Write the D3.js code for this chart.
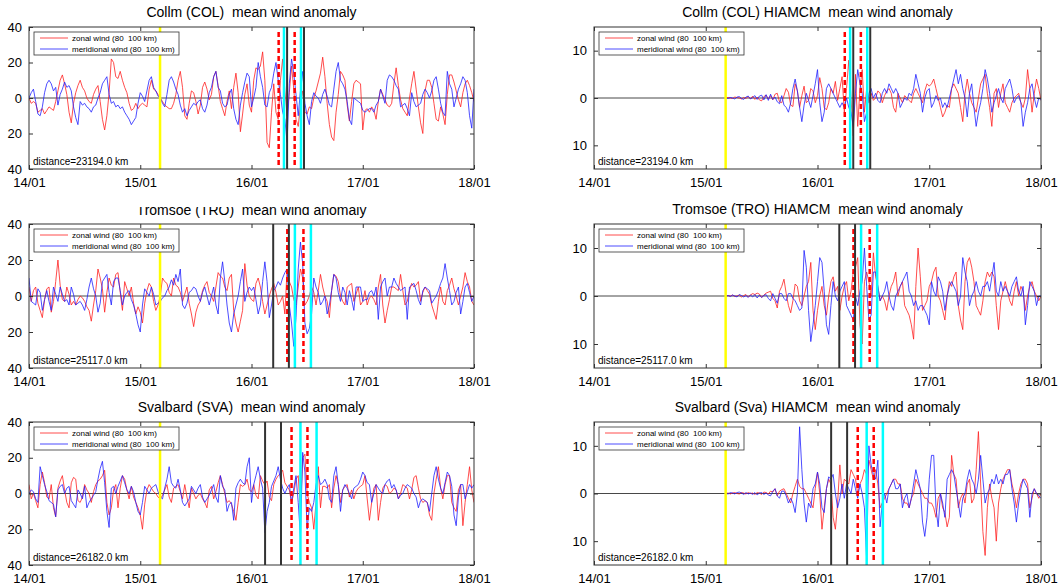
<!DOCTYPE html>
<html><head><meta charset="utf-8">
<script src="https://cdn.jsdelivr.net/npm/d3@7"></script>
<style>body{margin:0;background:#fff;} svg{display:block;font-family:"Liberation Sans",Arial,Helvetica,sans-serif;} text{white-space:pre;}</style>
</head><body><svg id="c" width="1062" height="587"></svg>
<script>
// ---------- tick labels / scale data ----------
const dateLabels = ["14/01","15/01","16/01","17/01","18/01"];
const obsTicks = [-40,-20,0,20,40];
const modTicks = [-10,0,10];
const stepDays = 0.02;      // sampling of the series (days)
const modelStart = 1.18;    // model series start (days after 14/01)

// ---------- Collm (COL) observation ----------
const colZonal = [0,-3,-2,-3,-8,-7,-6,-9,-7,-5,-6,-7,-2,4,10,13,8,2,-8,-14,-3,3,7,10,6,4,0,-2,-3,2,5,7,-2,-12,-18,-10,3,22,20,12,11,15,10,6,3,-3,-7,-6,-3,-6,-4,-3,-4,-5,5,10,5,4,2,0,-2,-4,-5,-6,-6,-3,2,10,15,6,-10,-12,-3,4,3,-2,-9,-4,6,9,5,-1,2,12,15,7,-2,-6,-10,-2,4,-6,6,14,3,-19,-9,2,8,-4,-8,10,17,16,18,26,10,-25,-28,-8,8,-8,-12,10,22,4,-10,3,18,5,-12,-16,-4,4,-8,-9,-5,-6,0,4,9,14,23,12,-3,-15,-22,-24,-8,2,15,13,10,-4,-13,-2,8,10,9,8,-18,-7,-6,-8,-5,-7,-12,-2,5,2,-1,-4,-5,-3,8,17,7,-1,-6,-8,-10,0,8,15,5,-5,-14,-20,4,10,10,6,-3,-12,-13,-5,-9,-15,2,13,13,9,4,-1,-5,3,8,10,7,3,-2];
const colMerid = [0,3,5,-2,-9,-10,-5,3,8,10,8,4,6,-4,2,5,9,6,7,4,-5,-11,-15,-2,-4,-3,-5,-6,-8,-5,-4,0,3,8,10,12,2,-3,-2,-5,-4,-6,-5,-8,-10,-12,-15,-13,-11,-3,3,1,-2,4,10,12,6,4,1,0,-3,-5,2,10,12,9,5,2,-4,-8,-6,-10,-7,-5,-3,-4,-2,-1,-6,-8,-4,3,6,12,15,6,4,-3,-5,-4,2,5,-6,-12,-15,-4,3,9,14,12,-5,0,6,20,12,6,-4,-5,3,6,14,20,10,2,-8,-12,-25,8,22,14,2,-10,4,15,-3,-10,-15,-2,3,1,0,-3,2,5,1,-4,-5,5,15,20,10,8,5,-2,-12,-15,0,-1,-2,-3,-7,-8,-7,-6,-6,-8,-4,-2,5,1,-3,10,13,12,10,7,5,-5,-4,-3,-6,-10,3,-2,-5,-4,-3,2,5,3,0,4,10,12,5,-3,-8,-10,15,8,5,-5,0,5,8,12,10,3,-10,-17,5];
// ---------- Collm (COL) HIAMCM ----------
const colHiZonal = [0,0.1,0,-0.1,0.2,0.1,0,-0.2,0.1,-0.1,0.3,-0.2,0.4,-0.3,0.2,-0.4,-0.6,0.3,0.6,-0.2,0.5,-0.4,0.8,1.0,-0.8,-1.0,0.5,2.0,1.2,-1.5,-1.8,3.0,1.5,-2.0,0.5,2.5,-1.0,-0.5,2.0,1.5,-1.0,0.5,4.3,2.0,-2.0,-2.5,-1.0,2.0,1.0,3.5,-0.5,2.0,4.5,-3,2,8,0,-8,5,-6,2,6,-3,2,-1,1,-0.5,0,1.5,1,-1,0.5,1.5,2,1,-2,-3,1,0,-1,0.5,0,-0.5,-1,1,2,1,0,-1,1.5,3,2.5,3,4,2,0,-2,-4,-3,-1.5,-2,2,3,2,1,-2,-5,1,4,1,-1,-2,-3,0,3,4,5,1,-2,-6,1,2,-2,1,3,-1,-2,-3,-1,0,0.5,1,-1,-2,0,6,2,-3,1,4,2,-0.5];
const colHiMerid = [0,-0.1,0.1,0,-0.2,0.2,0.3,-0.1,-0.3,0.2,0.4,-0.2,0.1,0.5,-0.3,0.4,0.6,-0.4,0.7,-0.5,0.8,-0.3,0.2,-0.8,-1.2,0.5,-1.5,-2.0,-3.0,-1.0,2.0,4.0,1.5,-2.0,-5.0,-1.5,1.0,-0.5,-2.0,0.5,3.0,6.0,-1.0,-5.0,-3.0,2.0,3.0,2.0,1.0,0,-1,-2,-1,-2,0,-2,-3,-6,1,6,3,1,-5,-3,1,2,0,1,-0.5,-1,1,2,1,3,2,1,2,1,-2,-1,0,-0.5,1,0.5,2,5,3,1,-3,0,1.5,2,-2,-1,0.5,-0.5,0,-2,-1,-2,0,2,4,6,3,5,2,0,-4,1,3,-2,-6,-3,-1,2,6,4,1,-3,-1,0.5,2,0,-1,2,3,4,2,-1,0,0.5,-1,-6,-3,-1,2,3,0,-2,0,-0.5];
// ---------- Tromsoe (TRO) observation ----------
const troZonal = [5,-3,3,5,-4,-8,-12,-2,4,5,-9,-3,8,20,6,-2,-3,5,1,-5,-3,-5,-2,0,-1,-3,-6,-8,-14,-5,3,15,10,4,-9,2,10,6,5,12,13,2,-8,8,4,0,5,-4,-10,-6,-9,-15,-4,3,7,5,-3,-8,-5,0,10,8,7,2,0,10,6,5,2,-3,1,5,-4,-10,-17,-9,-5,-3,3,6,8,2,0,-3,5,13,11,10,5,3,10,12,-8,-15,-20,-14,-8,18,6,0,-2,-3,7,10,5,-3,-10,-5,0,4,7,2,-5,-3,0,-10,15,8,5,-2,-5,5,15,10,-5,-3,0,5,2,-5,3,12,5,0,-3,-12,3,12,11,8,0,-3,-5,5,6,7,-3,1,5,-5,-3,3,-5,-1,0,-2,-5,5,12,-5,-15,-8,-2,5,5,4,3,12,3,-5,-3,3,7,5,6,8,-3,2,5,3,1,-5,-9,-13,-3,5,-3,-5,3,6,10,4,0,-5,0,5,13,8,5,-3,-5];
const troMerid = [10,-3,-4,-5,4,2,-8,-2,3,-3,-8,5,1,-3,5,1,-3,-2,-5,5,1,-5,-4,-3,-5,-8,-2,5,10,4,0,-9,-4,8,10,12,2,-5,8,10,10,3,-5,0,2,3,-2,-5,-10,-16,-20,-5,4,2,0,5,1,-5,-4,-3,-1,0,3,5,9,6,12,8,15,-5,-7,-4,2,3,5,4,0,-3,2,5,0,-5,0,5,-5,-10,10,19,8,-5,-15,-20,-10,-5,0,8,15,-3,2,5,3,5,-2,-10,-5,8,19,8,-12,-5,3,5,8,6,10,13,15,-5,-15,-28,-12,15,30,18,-15,-21,-18,-10,10,5,2,-5,-3,0,-10,-5,3,12,10,2,-3,5,2,-5,3,-2,-8,5,5,5,-3,-2,-2,2,3,0,5,-13,5,8,10,0,5,5,10,7,5,3,4,5,-13,5,6,7,3,-2,-5,3,5,4,3,-4,-2,0,3,7,10,18,10,3,-5,-3,2,5,-10,-3,5,7,2,-3,0];
// ---------- Tromsoe (TRO) HIAMCM ----------
const troHiZonal = [0,0.1,0,0.2,-0.1,0,0.2,-0.2,0.1,0.3,-0.2,0.2,0.5,0.3,0.6,0.4,-0.3,0.2,0.6,0.8,1.0,-0.5,-1.0,-2.5,1.0,2.0,3.5,0.5,-2.0,-3.5,-1.0,2.5,2.0,-1.0,-2.0,0,2.0,3.0,7.0,-3.0,-7,-3,0,2,-2,-4,0,3,4,1,2,-3,0,2,3,-1,1,5,6,8,-6,-10,3,5,3,0,9,4,2,-1,0,-1,-3,0,2,3,5,0,2,3,-2,-3,-4,-6,-9,2,10,4,-3,-2,-1,2,3,5,6,0,-1,-3,-5,0,3,2,4,5,-2,-5,-7,3,7,8,6,3,-2,-3,-4,-1,3,5,4,5,4,-2,-7,-1,1,3,1,-1,-2,1,3,0,2,1,-3,0,2,3,1,0,-1,0];
const troHiMerid = [0,0.1,-0.1,0.2,0,-0.2,0.3,0.1,-0.2,0.1,-0.3,0.2,-0.2,0.3,-0.4,0.2,-0.3,0.1,0.3,-0.5,-1.0,0.5,-0.5,-1.5,0.5,0.5,-0.5,-1.0,0.5,0.5,-0.5,-1.0,-2.0,-3.0,-2.5,9.5,6.0,-3.0,-9.5,-6.0,-2,3,8,7,1,-6,-8,-2,3,0,-1,1,2,3,-2,-3,-4,-5,0,-2,1,3,10,2,-5,-4,5,5,2,-1,0,1,3,0,-2,-3,0,1,2,3,4,5,1,0,-2,-1,-3,-2,-2,-3,-4,-6,3,1,0,4,3,1,-3,0,2,3,2,1,-2,0,8,5,3,-2,0,1,3,1,0,2,2,3,1,4,7,1,0,3,1,2,1,0,2,3,4,1,0,2,-6,-2,3,2,1,-2,0,0];
// ---------- Svalbard (SVA) observation ----------
const svaZonal = [5,-3,0,-4,-8,5,12,6,-2,-3,5,-8,-13,3,7,10,2,-5,-8,6,9,8,-4,-5,-2,5,2,0,-5,1,5,7,8,10,13,-5,-12,-8,2,5,-8,3,10,8,2,-3,4,-2,-5,-8,-12,-20,-6,2,5,3,1,0,-2,-3,-1,2,5,-2,-5,3,4,5,1,-3,5,-2,-8,3,0,-3,-1,0,-3,-5,-8,2,4,-3,1,6,10,5,0,-5,-4,-6,-10,-15,-5,5,4,5,8,2,1,5,-1,-3,10,7,5,7,-2,-4,5,8,10,11,13,6,4,2,-5,0,8,10,-10,20,22,0,-5,-8,-20,-5,15,-8,4,4,3,5,-8,3,10,5,-5,2,4,5,-2,2,-3,1,3,4,5,10,-3,-15,-5,3,5,-15,-5,3,5,4,0,1,3,2,-3,0,5,4,3,-3,2,9,10,3,-3,-5,-4,-5,-12,-15,0,8,15,3,-3,5,10,10,-5,-8,-10,2,5,-18,-5,5,15,2,-5];
const svaMerid = [0,2,1,-3,-5,15,10,5,1,-4,-5,-6,-13,2,4,5,0,3,4,-4,-6,-8,2,0,-3,4,-8,-5,-3,-1,1,8,14,18,6,-10,-19,3,4,0,4,7,10,6,2,0,4,1,-5,-10,-12,-5,4,2,0,3,4,5,1,-2,-3,3,8,15,6,4,3,8,2,-5,-7,-5,-3,4,2,0,3,5,-2,-5,-3,-1,2,5,-2,-5,10,4,2,-10,-6,-5,-15,3,6,8,6,5,15,20,-5,5,10,15,8,3,-22,-10,-5,4,7,10,15,8,3,0,3,5,-5,3,10,-5,-24,23,12,-20,-8,-10,-5,5,10,5,6,8,5,-3,-5,10,15,5,-10,2,5,3,0,-3,3,4,5,8,12,10,6,5,-5,0,5,3,1,0,5,7,8,3,5,2,-3,-1,0,3,5,4,3,0,-2,-8,-4,-3,-4,-5,-10,0,10,15,8,3,0,6,12,10,4,-12,-18,-2,5,5,-3,1,5,3,5];
// ---------- Svalbard (Sva) HIAMCM ----------
const svaHiZonal = [0,0.1,-0.1,0.1,0.2,0,-0.1,0.2,0.1,-0.1,0.2,0,0.1,-0.2,0.2,0.1,-0.2,0.3,0.2,-0.1,0.5,0.3,1.0,-0.5,0.5,0.8,1.0,0,-1.0,-2.0,0,1.5,3.0,1.5,1.0,1.0,0,-1.0,-2.0,-3.0,1,4.5,0,-7.5,-3,1,3,2,-5,-7.5,-2,6,0,3,2.5,2,5,4,3,0,2,3,5,4,7,5,3,5,2,-3,-2,-1,0,1,2,3,3,2,2,-1,-2,-2,-3,-1,0,3,2,1,0,-1,-1,-2,-2,-3,-5,-1,0,-3,-4,-7,-5,8,4,3,-3,-1,0,-2,2,3,-2,-1,5,13,2,-8,-13,-3,2,-1,-3,-10,-2,1,3,4,5,5,2,0,-3,0,2,3,3,2,-3,-1,1,0,-1,0];
const svaHiMerid = [0,-0.1,0.2,0.1,-0.1,0.2,0.3,0.1,-0.2,0.2,-0.1,0.1,-0.2,0.2,-0.3,0.1,0.2,-0.2,0.1,-0.3,-0.5,0.5,1.0,-0.5,-1.0,0.5,0.5,-0.5,-2.0,-1.0,-2.0,-4.0,0,14.0,5.0,-2.0,-6.0,-2.0,-3.0,1.0,2,4.5,2,-3,-4,1,3.5,3,4,0,-3,-1,2,-1,2,1,0,3,1,-1,2,0,-3,-14,10,6,4,3,7,-7,-2,0,-2,1,2,3,1,1,2,-3,-1,0,-3,-1,2,5,3,1,-6,-9,-5,3,8,8,-3,-7,0,-2,-5,3,4,5,4,1,-2,-5,-1,0,3,5,3,2,0,3,8,3,-2,0,1,3,2,4,2,3,2,4,4,5,1,-2,-6,-2,1,3,2,1,-5,0,1,0,-0.5,-1];

// ---------- event lines (days after 14/01) ----------
const colYellow=[1.178], colRed=[2.244,2.388], colCyan=[2.292,2.445], colBlack=[2.320,2.472];
const troYellow=[1.178], troRed=[2.322,2.467], troCyan=[2.390,2.534], troBlack=[2.195,2.336];
const svaYellow=[1.178], svaRed=[2.360,2.503], svaCyan=[2.440,2.585], svaBlack=[2.122,2.265];

const distances = ["distance=23194.0 km","distance=25117.0 km","distance=26182.0 km"];

const panels = [
  {title:"Collm (COL)  mean wind anomaly", z:colZonal, m:colMerid, model:false, row:0, col:0, ev:[colYellow,colRed,colCyan,colBlack], dist:distances[0]},
  {title:"Collm (COL) HIAMCM  mean wind anomaly", z:colHiZonal, m:colHiMerid, model:true, row:0, col:1, ev:[colYellow,colRed,colCyan,colBlack], dist:distances[0]},
  {title:"Tromsoe (TRO)  mean wind anomaly", z:troZonal, m:troMerid, model:false, row:1, col:0, ev:[troYellow,troRed,troCyan,troBlack], dist:distances[1], clipTitle:true},
  {title:"Tromsoe (TRO) HIAMCM  mean wind anomaly", z:troHiZonal, m:troHiMerid, model:true, row:1, col:1, ev:[troYellow,troRed,troCyan,troBlack], dist:distances[1]},
  {title:"Svalbard (SVA)  mean wind anomaly", z:svaZonal, m:svaMerid, model:false, row:2, col:0, ev:[svaYellow,svaRed,svaCyan,svaBlack], dist:distances[2]},
  {title:"Svalbard (Sva) HIAMCM  mean wind anomaly", z:svaHiZonal, m:svaHiMerid, model:true, row:2, col:1, ev:[svaYellow,svaRed,svaCyan,svaBlack], dist:distances[2]}
];

const colsX = [[29,474],[594,1041]];
const rowsY = [[27,169],[224,368],[422,565]];
const svg = d3.select("#c");
const AX = "#333";

panels.forEach((p,pi)=>{
  const [x0,x1] = colsX[p.col], [y0,y1] = rowsY[p.row];
  const x = d3.scaleLinear().domain([0,4]).range([x0,x1]);
  const y = d3.scaleLinear().domain(p.model?[-15,15]:[-40,40]).range([y1,y0]);
  const g = svg.append("g");
  const cid = "clip"+pi;
  g.append("clipPath").attr("id",cid).append("rect").attr("x",x0).attr("y",y0).attr("width",x1-x0).attr("height",y1-y0);

  // title
  const tt = g.append("text").attr("x",(x0+x1)/2).attr("y",y0-10.5).attr("text-anchor","middle")
    .attr("font-size",14).attr("fill","#000").text(p.title);
  if (p.clipTitle) {
    // the reference shows this title with its upper part hidden
    g.append("clipPath").attr("id","tclip"+pi).append("rect").attr("x",x0).attr("y",y0-17).attr("width",x1-x0).attr("height",19);
    tt.attr("y",y0-9.5).attr("clip-path",`url(#tclip${pi})`);
  }

  // zero line
  g.append("line").attr("x1",x0).attr("x2",x1).attr("y1",y(0)).attr("y2",y(0)).attr("stroke",AX).attr("stroke-width",0.9);

  const t0 = p.model ? modelStart : 0;
  const line = d3.line().x((d,i)=>x(t0+i*stepDays)).y(d=>y(d));
  const dg = g.append("g").attr("clip-path",`url(#${cid})`);
  dg.append("path").datum(p.z).attr("d",line).attr("fill","none").attr("stroke","#ff2020").attr("stroke-width",0.8);
  dg.append("path").datum(p.m).attr("d",line).attr("fill","none").attr("stroke","#2020ff").attr("stroke-width",0.8);

  // event lines
  const [yel,red,cyan,blk] = p.ev;
  yel.forEach(d=>dg.append("line").attr("x1",x(d)).attr("x2",x(d)).attr("y1",y0).attr("y2",y1).attr("stroke","#ffff00").attr("stroke-width",2.5));
  red.forEach(d=>dg.append("line").attr("x1",x(d)).attr("x2",x(d)).attr("y1",y0+5).attr("y2",y1-4).attr("stroke","#ff0000").attr("stroke-width",2.5).attr("stroke-dasharray","5,3"));
  cyan.forEach(d=>dg.append("line").attr("x1",x(d)).attr("x2",x(d)).attr("y1",y0).attr("y2",y1).attr("stroke","#00ffff").attr("stroke-width",2.5));
  blk.forEach(d=>dg.append("line").attr("x1",x(d)).attr("x2",x(d)).attr("y1",y0).attr("y2",y1).attr("stroke","#333").attr("stroke-width",2));

  // axes
  const yt = p.model ? modTicks : obsTicks;
  const xa = d3.axisBottom(x).tickValues(d3.range(5)).tickFormat(d=>dateLabels[d]).tickSizeInner(-4).tickSizeOuter(0).tickPadding(9);
  const ga = g.append("g").attr("transform",`translate(0,${y1})`).call(xa);
  const ya = d3.axisLeft(y).tickValues(yt).tickFormat(d=>String(Math.abs(d))).tickSizeInner(-4).tickSizeOuter(0).tickPadding(7);
  const gy = g.append("g").attr("transform",`translate(${x0},0)`).call(ya);
  const gt = g.append("g").attr("transform",`translate(0,${y0})`).call(d3.axisTop(x).tickValues(d3.range(5)).tickFormat("").tickSizeInner(-4).tickSizeOuter(0));
  const gr = g.append("g").attr("transform",`translate(${x1},0)`).call(d3.axisRight(y).tickValues(yt).tickFormat("").tickSizeInner(-4).tickSizeOuter(0));
  [ga,gy,gt,gr].forEach(a=>{a.select(".domain").remove(); a.selectAll("line").attr("stroke",AX); a.selectAll("text").attr("font-size",13).attr("fill","#000").attr("font-family",null);});
  g.append("rect").attr("x",x0).attr("y",y0).attr("width",x1-x0).attr("height",y1-y0).attr("fill","none").attr("stroke",AX).attr("stroke-width",1);

  // legend
  const lg = g.append("g").attr("transform",`translate(${x0+5},${y0+5})`);
  lg.append("rect").attr("width",145).attr("height",23).attr("fill","#fff").attr("stroke",AX).attr("stroke-width",0.8);
  [["zonal wind (80  100 km)","#ff2020"],["meridional wind (80  100 km)","#2020ff"]].forEach((e,i)=>{
    const yy = 6+i*11;
    lg.append("line").attr("x1",6).attr("x2",34).attr("y1",yy).attr("y2",yy).attr("stroke",e[1]).attr("stroke-width",0.8);
    lg.append("text").attr("x",38).attr("y",yy+3).attr("font-size",8).attr("fill","#000").text(e[0]);
  });
  // distance
  g.append("text").attr("x",x0+4).attr("y",y1-4).attr("font-size",10).attr("fill","#000").text(p.dist);
});
</script></body></html>
